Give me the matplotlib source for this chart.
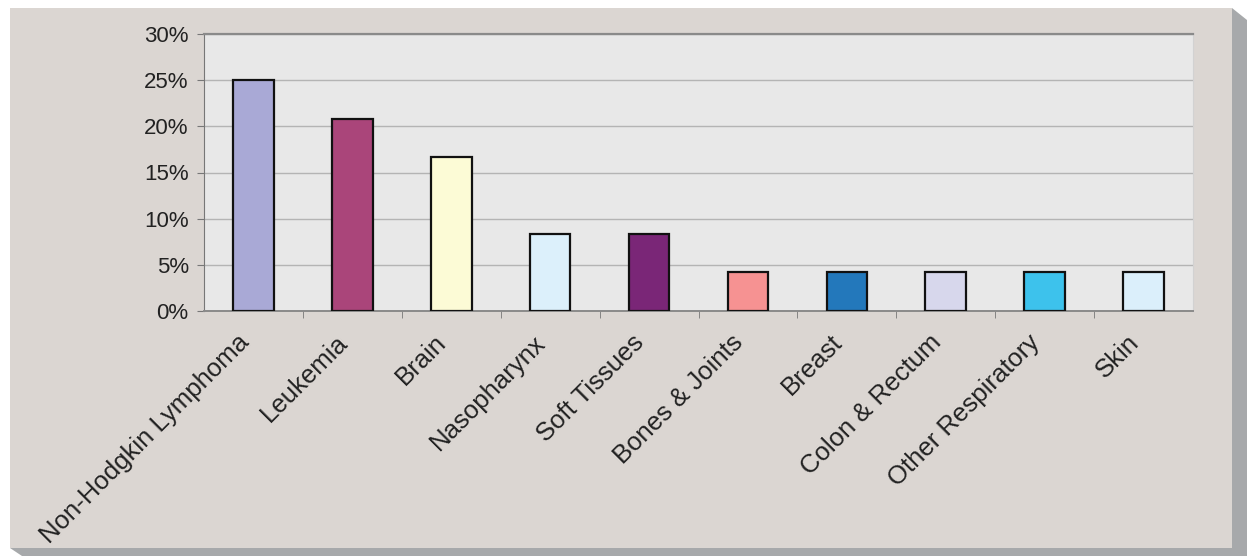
import matplotlib.pyplot as plt
from matplotlib.patches import Rectangle, Polygon
from matplotlib.ticker import FuncFormatter
import numpy as np

# data (percent of cases)
sites = ["Non-Hodgkin Lymphoma", "Leukemia", "Brain", "Nasopharynx", "Soft Tissues",
         "Bones & Joints", "Breast", "Colon & Rectum", "Other Respiratory", "Skin"]
share = [25.0, 20.8, 16.7, 8.3, 8.3, 4.2, 4.2, 4.2, 4.2, 4.2]
bar_colors = ["#a9a9d6", "#aa457a", "#fcfbd6", "#dcf0fb", "#7a2677",
              "#f69292", "#2378bb", "#d7d7ec", "#3dc2ec", "#dbeffb"]

plt.rcParams['font.family'] = ['Liberation Sans', 'DejaVu Sans']

W, H = 1251, 558
fig = plt.figure(figsize=(W / 100, H / 100), dpi=100)
fig.patch.set_facecolor("white")

# shadow + panel behind the chart
def fx(px): return px / W
def fy(py): return 1 - py / H
shadow = Polygon([(fx(1232), fy(8)), (fx(1247), fy(20)), (fx(1247), fy(556)),
                  (fx(22), fy(556)), (fx(10), fy(548)), (fx(1232), fy(548))],
                 closed=True, transform=fig.transFigure, facecolor="#a7a9ab",
                 edgecolor="none", zorder=-3)
panel = Rectangle((fx(10), fy(548)), fx(1232) - fx(10), fy(8) - fy(548),
                  transform=fig.transFigure, facecolor="#dbd6d2",
                  edgecolor="none", zorder=-2)
fig.patches.extend([shadow, panel])

ax = fig.add_axes([fx(204), fy(311), fx(1193) - fx(204), fy(34) - fy(311)])
ax.set_zorder(1)
ax.set_facecolor("#e8e8e8")

x = np.arange(len(sites))
ax.bar(x, share, width=0.41, color=bar_colors, edgecolor="#111111", linewidth=1.6, zorder=3)

ax.set_xlim(-0.5, len(sites) - 0.5)
ax.set_ylim(0, 30)
ax.set_yticks(np.arange(0, 31, 5))
ax.yaxis.set_major_formatter(FuncFormatter(lambda v, p: f"{v:.0f}%"))
ax.grid(axis="y", color="#b4b4b4", linewidth=1.0, zorder=1)

ax.set_xticks(x)
ax.set_xticklabels(sites, rotation=45, ha="right", va="top", fontsize=18.5)
ax.set_xticks(np.arange(0.5, len(sites) - 1, 1), minor=True)
ax.tick_params(axis="x", which="major", length=0, pad=14)
ax.tick_params(axis="x", which="minor", length=5, color="#777777", direction="out")
ax.tick_params(axis="y", length=5, color="#777777", labelsize=16, pad=6, labelcolor="#222222")
ax.tick_params(axis="x", labelcolor="#222222")

ax.spines["top"].set_color("#8a8a8a")
ax.spines["top"].set_linewidth(1.6)
ax.spines["left"].set_color("#777777")
ax.spines["bottom"].set_color("#8a8a8a")
ax.spines["bottom"].set_linewidth(1.4)
ax.spines["right"].set_color("#d2d2d2")

fig.savefig("out.png", dpi=100)
